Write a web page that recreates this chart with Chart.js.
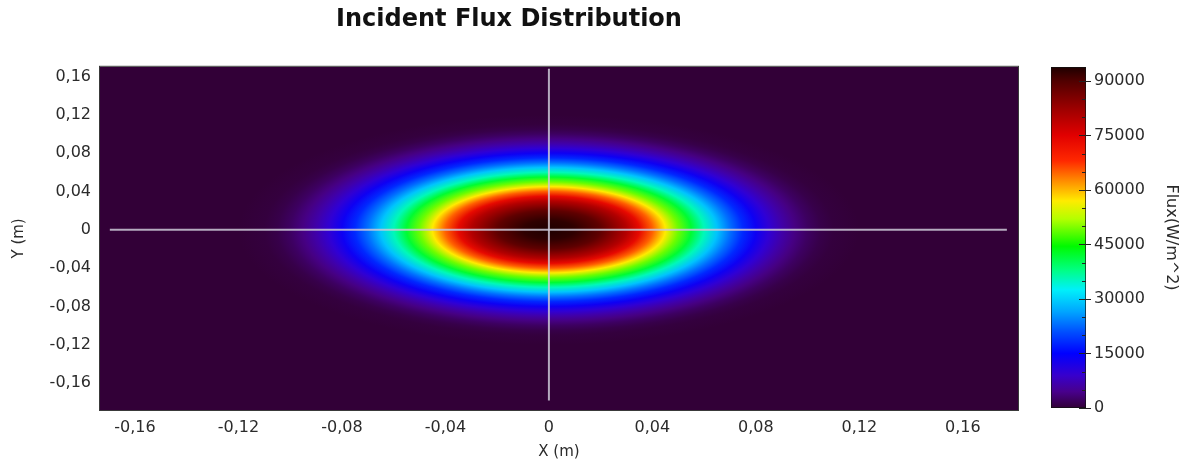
<!DOCTYPE html>
<html>
<head>
<meta charset="utf-8">
<title>Incident Flux Distribution</title>
<script src="https://cdn.jsdelivr.net/npm/chart.js@4"></script>
<style>
  body { margin: 0; background: #fff; }
  #wrap { position: relative; width: 1192px; height: 467px; }
  #fluxMap { position: absolute; left: 0; top: 0; }
  #fluxBar { position: absolute; left: 1034px; top: 0; }
</style>
</head>
<body>
<div id="wrap">
  <canvas id="fluxMap" width="1034" height="467"></canvas>
  <canvas id="fluxBar" width="158" height="467"></canvas>
</div>
<script>
// axis ticks (m) and colour-bar ticks (W/m^2)
const xTicks = [-0.16, -0.12, -0.08, -0.04, 0, 0.04, 0.08, 0.12, 0.16];
const yTicks = [-0.16, -0.12, -0.08, -0.04, 0, 0.04, 0.08, 0.12, 0.16];
const fluxTicks = [0, 15000, 30000, 45000, 60000, 75000, 90000];
const fluxMinorTicks = [5000, 10000, 20000, 25000, 35000, 40000, 50000, 55000, 65000, 70000, 80000, 85000];

// radial flux profile of the spot, centred on the origin
const spotCenter = [0, 0];
const radius = [0, 0.01, 0.02, 0.03, 0.035, 0.04, 0.045, 0.05, 0.055, 0.06, 0.065,
                0.07, 0.075, 0.08, 0.085, 0.09, 0.095, 0.1, 0.105, 0.11, 0.12];
const flux = [93800, 92500, 88500, 80000, 73500, 65000, 57000, 49000, 42000, 35500, 29000,
              23000, 18000, 13500, 9800, 6500, 4000, 2200, 1000, 350, 0];
const fluxMax = 93800;

// cross-hair through the origin
const hLineX = [-0.1697, 0.177];
const vLineY = [-0.178, 0.168];

// colour map: flux value -> rgb
const cmapValues = [0, 4500, 9000, 15000, 21000, 26500, 32500, 38000, 44500, 52000,
                    57000, 62500, 68000, 75000, 82000, 90000, 93800];
const cmapColors = [
  [50, 0, 55], [72, 0, 140], [55, 0, 205], [0, 0, 255], [0, 80, 255], [0, 165, 255],
  [0, 240, 250], [0, 255, 130], [0, 250, 0], [180, 255, 0], [255, 235, 0], [255, 140, 0],
  [255, 40, 0], [225, 0, 0], [160, 0, 0], [80, 0, 0], [30, 0, 0]
];

function fluxColor(v) {
  if (v <= cmapValues[0]) return rgb(cmapColors[0]);
  for (let i = 1; i < cmapValues.length; i++) {
    if (v <= cmapValues[i]) {
      const t = (v - cmapValues[i - 1]) / (cmapValues[i] - cmapValues[i - 1]);
      const a = cmapColors[i - 1], b = cmapColors[i];
      return rgb(a.map((c, k) => c + (b[k] - c) * t));
    }
  }
  return rgb(cmapColors[cmapColors.length - 1]);
}
function rgb(c) {
  return `rgb(${Math.round(c[0])},${Math.round(c[1])},${Math.round(c[2])})`;
}

function commaFmt(v) {
  if (Math.abs(v) < 1e-9) return '0';
  return v.toFixed(2).replace('.', ',');
}

const tickFont = { family: 'DejaVu Sans', size: 16 };
const titleFont = { family: 'DejaVu Sans', size: 15 };
const textColor = '#2b2b2b';

// paints the flux spot behind the datasets
const heatmap = {
  id: 'heatmap',
  beforeDatasetsDraw(chart) {
    const { ctx, chartArea: a, scales: { x, y } } = chart;
    ctx.save();
    ctx.beginPath();
    ctx.rect(a.left, a.top, a.width, a.height);
    ctx.clip();
    ctx.fillStyle = fluxColor(0);
    ctx.fillRect(a.left, a.top, a.width, a.height);

    const R = radius[radius.length - 1];
    const cx = x.getPixelForValue(spotCenter[0]);
    const cy = y.getPixelForValue(spotCenter[1]);
    const rx = x.getPixelForValue(spotCenter[0] + R) - cx;
    const ry = cy - y.getPixelForValue(spotCenter[1] + R);
    ctx.translate(cx, cy);
    ctx.scale(1, ry / rx);
    const g = ctx.createRadialGradient(0, 0, 0, 0, 0, rx);
    radius.forEach((r, i) => g.addColorStop(r / R, fluxColor(flux[i])));
    ctx.fillStyle = g;
    ctx.beginPath();
    ctx.arc(0, 0, rx, 0, Math.PI * 2);
    ctx.fill();
    ctx.restore();
  },
  afterDatasetsDraw(chart) {
    const { ctx, chartArea: a } = chart;
    ctx.save();
    ctx.strokeStyle = '#3a3a3a';
    ctx.lineWidth = 1;
    ctx.strokeRect(a.left - 0.5, a.top - 0.5, a.width + 1, a.height + 1);
    ctx.restore();
  }
};

new Chart(document.getElementById('fluxMap'), {
  type: 'scatter',
  data: {
    datasets: [
      {
        data: hLineX.map(v => ({ x: v, y: 0 })),
        showLine: true,
        borderColor: 'rgba(205,200,215,0.85)',
        borderWidth: 2,
        pointRadius: 0
      },
      {
        data: vLineY.map(v => ({ x: 0, y: v })),
        showLine: true,
        borderColor: 'rgba(205,200,215,0.85)',
        borderWidth: 2,
        pointRadius: 0
      }
    ]
  },
  options: {
    responsive: false,
    animation: false,
    layout: { padding: { left: 0, right: 16, top: 0, bottom: 0 } },
    plugins: {
      legend: { display: false },
      tooltip: { enabled: false },
      title: {
        display: true,
        text: 'Incident Flux Distribution',
        color: '#111',
        font: { family: 'DejaVu Sans', size: 24, weight: 'bold' },
        padding: { top: 5, bottom: 33 }
      }
    },
    scales: {
      x: {
        type: 'linear',
        min: -0.1735,
        max: 0.1813,
        afterBuildTicks: s => { s.ticks = xTicks.map(v => ({ value: v })); },
        afterFit: s => { s.height = 57; },
        grid: { display: false, drawTicks: false },
        border: { display: false },
        ticks: { padding: 8, color: textColor, font: tickFont, callback: v => commaFmt(v), maxRotation: 0 },
        title: { display: true, text: 'X (m)', color: textColor, font: titleFont, padding: { top: 0, bottom: 6 } }
      },
      y: {
        type: 'linear',
        min: -0.188,
        max: 0.170,
        afterBuildTicks: s => { s.ticks = yTicks.map(v => ({ value: v })); },
        afterFit: s => { s.width = 100; },
        grid: { display: false, drawTicks: false },
        border: { display: false },
        ticks: { padding: 9, color: textColor, font: tickFont, callback: v => commaFmt(v) },
        title: { display: true, text: 'Y (m)', color: textColor, font: titleFont, padding: { top: 10, bottom: 0 } }
      }
    }
  },
  plugins: [heatmap]
});

// tick marks on the colour bar: short minor ones inside, major ones across the edge
const barTicks = {
  id: 'barTicks',
  afterDatasetsDraw(chart) {
    const { ctx, chartArea: a, scales: { y } } = chart;
    ctx.save();
    ctx.strokeStyle = '#222';
    ctx.lineWidth = 1;
    const mark = (v, x0, x1) => {
      const p = Math.round(y.getPixelForValue(v)) + 0.5;
      ctx.beginPath();
      ctx.moveTo(x0, p);
      ctx.lineTo(x1, p);
      ctx.stroke();
    };
    fluxMinorTicks.forEach(v => mark(v, a.right - 4, a.right));
    fluxTicks.forEach(v => mark(v, a.right - 7, a.right + 5));
    ctx.restore();
  }
};

new Chart(document.getElementById('fluxBar'), {
  type: 'bar',
  data: {
    labels: ['flux'],
    datasets: [{
      data: [[0, fluxMax]],
      backgroundColor: ctx => {
        const chart = ctx.chart;
        if (!chart.chartArea) return fluxColor(0);
        const y = chart.scales.y;
        const g = chart.ctx.createLinearGradient(0, y.getPixelForValue(0), 0, y.getPixelForValue(fluxMax));
        cmapValues.forEach((v, i) => g.addColorStop(v / fluxMax, rgb(cmapColors[i])));
        return g;
      },
      borderColor: '#111',
      borderWidth: 1,
      borderSkipped: false,
      barPercentage: 1,
      categoryPercentage: 1
    }]
  },
  options: {
    responsive: false,
    animation: false,
    layout: { padding: { left: 17, right: 0, top: 67, bottom: 59 } },
    plugins: { legend: { display: false }, tooltip: { enabled: false } },
    scales: {
      x: { display: false },
      y: {
        position: 'right',
        min: 0,
        max: fluxMax,
        afterBuildTicks: s => { s.ticks = fluxTicks.map(v => ({ value: v })); },
        afterFit: s => { s.width = 106; },
        grid: { display: false, drawTicks: false },
        border: { display: false },
        ticks: { padding: 8, color: textColor, font: tickFont, callback: v => String(v) },
        title: { display: true, text: 'Flux(W/m^2)', color: textColor, font: { family: 'DejaVu Sans', size: 16 }, padding: { top: 11, bottom: 0 } }
      }
    }
  },
  plugins: [barTicks]
});
</script>
</body>
</html>
